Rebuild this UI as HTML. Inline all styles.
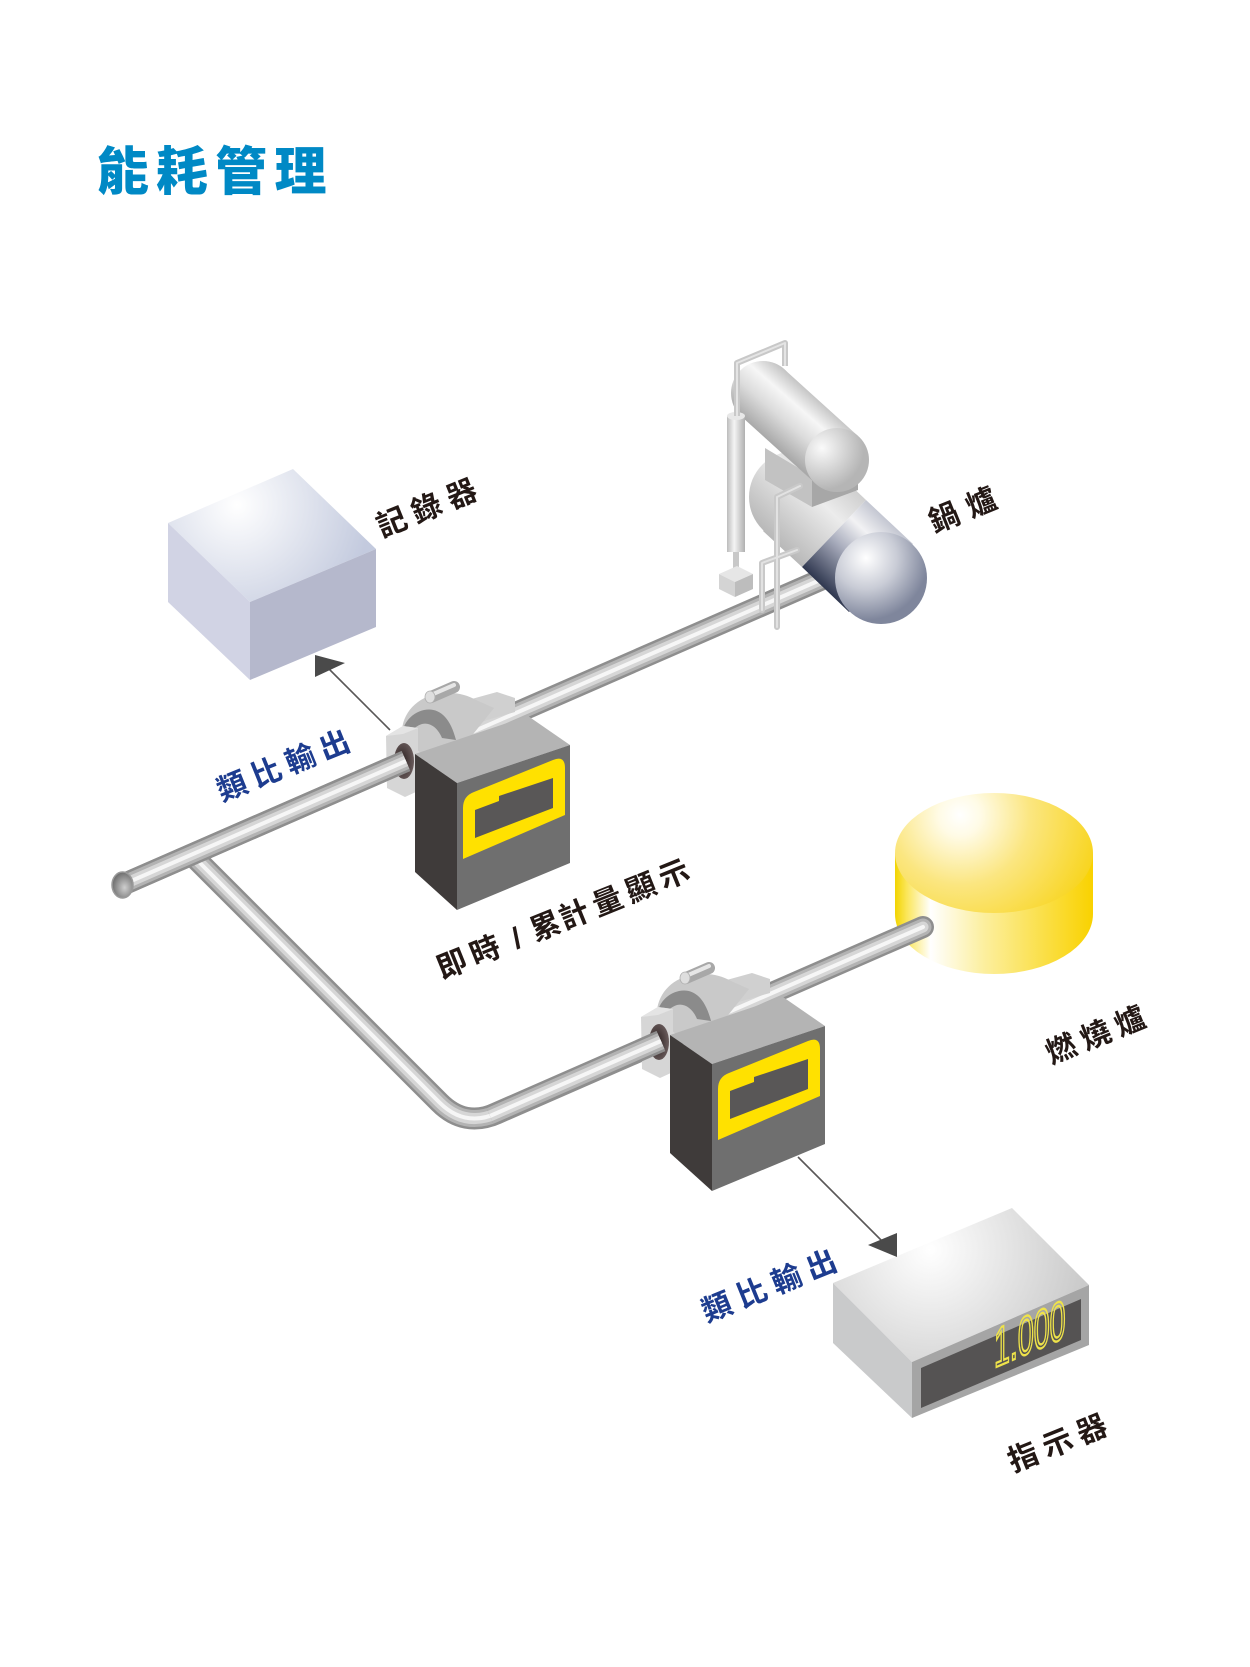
<!DOCTYPE html>
<html><head><meta charset="utf-8">
<style>
html,body{margin:0;padding:0;background:#fff;}
svg{display:block;}
.lbl{font-family:"Liberation Sans","Noto Sans CJK TC",sans-serif;font-size:30px;fill:#231815;font-weight:700;}
.blue{fill:#1d3c8f;}
</style></head><body>
<svg width="1250" height="1667" viewBox="0 0 1250 1667" xmlns="http://www.w3.org/2000/svg">
<defs>
  <radialGradient id="gRecTop" gradientUnits="userSpaceOnUse" cx="237" cy="505" r="135">
    <stop offset="0" stop-color="#ffffff"/><stop offset="1" stop-color="#c3cade"/>
  </radialGradient>
  <radialGradient id="gBurTop" gradientUnits="userSpaceOnUse" cx="960" cy="815" r="140">
    <stop offset="0" stop-color="#ffffff"/><stop offset="0.15" stop-color="#fffbe6"/>
    <stop offset="0.5" stop-color="#fbe680"/><stop offset="1" stop-color="#f8d520"/>
  </radialGradient>
  <linearGradient id="gBurSide" gradientUnits="userSpaceOnUse" x1="895" y1="0" x2="1093" y2="0">
    <stop offset="0" stop-color="#f2d400"/><stop offset="0.06" stop-color="#fbe65a"/>
    <stop offset="0.18" stop-color="#ffffff"/><stop offset="0.45" stop-color="#fcef9e"/>
    <stop offset="1" stop-color="#f9d200"/>
  </linearGradient>
  <radialGradient id="gIndTop" gradientUnits="userSpaceOnUse" cx="930" cy="1250" r="175">
    <stop offset="0" stop-color="#ffffff"/><stop offset="1" stop-color="#c4c4c4"/>
  </radialGradient>
  <linearGradient id="gUpCyl" gradientUnits="userSpaceOnUse" x1="784" y1="369" x2="742" y2="417">
    <stop offset="0" stop-color="#c4c4c4"/><stop offset="0.3" stop-color="#f6f6f6"/>
    <stop offset="0.6" stop-color="#dcdcdc"/><stop offset="1" stop-color="#a9a9a9"/>
  </linearGradient>
  <radialGradient id="gUpCap" gradientUnits="userSpaceOnUse" cx="822" cy="448" r="42">
    <stop offset="0" stop-color="#fafafa"/><stop offset="1" stop-color="#b5b5b5"/>
  </radialGradient>
  <linearGradient id="gLowRear" gradientUnits="userSpaceOnUse" x1="827" y1="463" x2="763" y2="531">
    <stop offset="0" stop-color="#cfcfcf"/><stop offset="0.35" stop-color="#ececec"/><stop offset="1" stop-color="#b8b8b8"/>
  </linearGradient>
  <linearGradient id="gLowFront" gradientUnits="userSpaceOnUse" x1="866" y1="500" x2="802" y2="567">
    <stop offset="0" stop-color="#c4c7d2"/><stop offset="0.25" stop-color="#f2f2f4"/>
    <stop offset="0.55" stop-color="#a9adbd"/><stop offset="1" stop-color="#2f374f"/>
  </linearGradient>
  <radialGradient id="gLowCap" gradientUnits="userSpaceOnUse" cx="866" cy="558" r="62">
    <stop offset="0" stop-color="#ffffff"/><stop offset="0.5" stop-color="#c9ccd6"/><stop offset="1" stop-color="#7f869c"/>
  </radialGradient>
  <linearGradient id="gCol" gradientUnits="userSpaceOnUse" x1="727" y1="0" x2="745" y2="0">
    <stop offset="0" stop-color="#bcbcbc"/><stop offset="0.4" stop-color="#f4f4f4"/><stop offset="1" stop-color="#b0b0b0"/>
  </linearGradient>
  <radialGradient id="gHole" cx="0.4" cy="0.5" r="0.6">
    <stop offset="0" stop-color="#2a2020"/><stop offset="1" stop-color="#6a5c5c"/>
  </radialGradient>
  <radialGradient id="gEnd" cx="0.6" cy="0.6" r="0.6">
    <stop offset="0" stop-color="#cfcfcf"/><stop offset="1" stop-color="#6e6e6e"/>
  </radialGradient>

  <path id="mainPipe" d="M122,885 L850,567" fill="none"/>
  <path id="branchPipe" d="M195,858 L439.5,1102.5 Q464.5,1127.5 496.5,1113.5 L923,927" fill="none"/>
  <path id="seg1" d="M122,885 L406,761" fill="none"/>
  <path id="seg2" d="M490,1116 L661,1041" fill="none"/>

  <g id="meter">
    <polygon points="468,700 497,692 515,698 515,712 480,722" fill="#d0d0d0"/>
    <path d="M402,738 C400,716 414,699 436,694 C452,691 466,694 476,700 L494,708 L470,738 L430,760 Z" fill="#c9c9c9"/>
    <path d="M401,742 C401,724 411,713 424,710 C438,707 450,716 456,740 L442,738 C438,728 430,722 422,724 C413,727 408,734 407,744 Z" fill="#8b8b8b"/>
    <line x1="431" y1="697" x2="454" y2="687" stroke="#a8a8a8" stroke-width="12" stroke-linecap="round"/>
    <line x1="431" y1="695" x2="454" y2="685" stroke="#e6e6e6" stroke-width="4" stroke-linecap="round"/>
    <ellipse cx="430" cy="697" rx="5" ry="6" fill="#dedede" stroke="#b0b0b0" stroke-width="0.8"/>
    <polygon points="386,736 403,726 418,728 418,791 405,797 387,788" fill="#d6d6d6"/>
    <polygon points="386,736 403,726 418,728 403,734" fill="#e4e4e4"/>
    <ellipse cx="404" cy="761" rx="10" ry="18" fill="url(#gHole)"/>
    <polygon points="415,754 528,716 570,745 457,783" fill="#b4b4b4"/>
    <polygon points="415,754 457,783 457,910 415,872" fill="#3f3b3a"/>
    <polygon points="457,783 570,745 570,863 457,910" fill="#6f6f6f"/>
    <path d="M463,859 L463,808 Q463,796 474,792 L553,760 Q565,755 565,768 L565,815 Z" fill="#ffe100"/>
    <path d="M475,838 L475,810 L499,801 L499,796 L553,778 L553,808 Z" fill="#595757"/>
  </g>
</defs>

<!-- Title -->
<text x="123 182 241 300.5" y="173" font-family="'Liberation Sans','Noto Sans CJK TC',sans-serif" font-size="52" font-weight="900" fill="#0089c5" text-anchor="middle" dominant-baseline="central">能耗管理</text>

<!-- Recorder box -->
<polygon points="293,469 376,549 250,602 168,523" fill="url(#gRecTop)"/>
<polygon points="168,523 250,602 250,680 168,602" fill="#d1d3e4"/>
<polygon points="250,602 376,549 376,627 250,680" fill="#b5b8cc"/>

<!-- Burner -->
<ellipse cx="994" cy="914" rx="99" ry="60" fill="url(#gBurSide)"/>
<rect x="895" y="853" width="198" height="61" fill="url(#gBurSide)"/>
<ellipse cx="994" cy="853" rx="99" ry="60" fill="url(#gBurTop)"/>

<!-- Pipes -->
<g fill="none" stroke-linejoin="round">
  <use href="#mainPipe" stroke="#8e8e8e" stroke-width="22"/>
  <use href="#mainPipe" stroke="#b3b3b3" stroke-width="17"/>
  <use href="#mainPipe" stroke="#d6d6d6" stroke-width="11"/>
  <use href="#mainPipe" stroke="#f6f6f6" stroke-width="4"/>
</g>
<g fill="none" stroke-linejoin="round" stroke-linecap="round">
  <use href="#branchPipe" stroke="#8e8e8e" stroke-width="22"/>
  <use href="#branchPipe" stroke="#b3b3b3" stroke-width="17"/>
  <use href="#branchPipe" stroke="#d6d6d6" stroke-width="11"/>
  <use href="#branchPipe" stroke="#f6f6f6" stroke-width="4"/>
</g>

<!-- Boiler -->
<circle cx="795" cy="497" r="46" fill="url(#gLowRear)"/>
<polygon points="763,531 827,463 866,500 802,567" fill="url(#gLowRear)"/>
<polygon points="765,448 812,476 812,507 765,480" fill="#c2c2c2"/>
<polygon points="812,476 858,470 858,490 812,507" fill="#a7a7a7"/>
<circle cx="763" cy="393" r="32" fill="url(#gUpCyl)"/>
<polygon points="742,417 784,369 858,436 816,484" fill="url(#gUpCyl)"/>
<circle cx="837" cy="460" r="32" fill="url(#gUpCap)"/>
<polygon points="802,567 866,500 913,544 849,612" fill="url(#gLowFront)"/>
<circle cx="881" cy="578" r="46" fill="url(#gLowCap)"/>
<line x1="736" y1="550" x2="736" y2="572" stroke="#c8c8c8" stroke-width="6"/>
<rect x="727" y="416" width="18" height="136" fill="url(#gCol)"/>
<ellipse cx="736" cy="416" rx="9" ry="4" fill="#e8e8e8"/>
<path d="M737,416 L737,363 L785,343 L785,366" fill="none" stroke="#c8c8c8" stroke-width="6" stroke-linejoin="round"/>
<path d="M737,416 L737,363 L785,343 L785,366" fill="none" stroke="#e4e4e4" stroke-width="2" stroke-linejoin="round"/>
<g fill="none" stroke-linecap="round" stroke-linejoin="round">
  <path d="M800,486 L777,497 L777,627" stroke="#c9c9c9" stroke-width="6"/>
  <path d="M797,550 L762,563 L762,610" stroke="#c9c9c9" stroke-width="6"/>
  <path d="M800,486 L777,497 L777,627" stroke="#e2e2e2" stroke-width="2"/>
  <path d="M797,550 L762,563 L762,610" stroke="#e2e2e2" stroke-width="2"/>
</g>
<polygon points="719,574 737,566 753,574 735,582" fill="#e6e6e6"/>
<polygon points="719,574 735,582 735,597 719,589" fill="#d4d4d4"/>
<polygon points="735,582 753,574 753,589 735,597" fill="#bdbdbd"/>

<!-- Meters -->
<use href="#meter"/>
<use href="#meter" transform="translate(255,281)"/>

<g fill="none">
  <use href="#seg1" stroke="#8e8e8e" stroke-width="22"/>
  <use href="#seg1" stroke="#b3b3b3" stroke-width="17"/>
  <use href="#seg1" stroke="#d6d6d6" stroke-width="11"/>
  <use href="#seg1" stroke="#f6f6f6" stroke-width="4"/>
  <use href="#seg2" stroke="#8e8e8e" stroke-width="22"/>
  <use href="#seg2" stroke="#b3b3b3" stroke-width="17"/>
  <use href="#seg2" stroke="#d6d6d6" stroke-width="11"/>
  <use href="#seg2" stroke="#f6f6f6" stroke-width="4"/>
</g>
<ellipse cx="122.5" cy="885" rx="10.5" ry="13" fill="url(#gEnd)" stroke="#9a9a9a" stroke-width="1.5"/>

<!-- Indicator -->
<polygon points="833,1283 1012,1208 1089,1285 912,1362" fill="url(#gIndTop)"/>
<polygon points="833,1283 912,1362 912,1418 833,1343" fill="#c9cacb"/>
<polygon points="912,1362 1089,1285 1089,1345 912,1418" fill="#a5a5a5"/>
<polygon points="921,1368 1081,1299 1081,1340 921,1408" fill="#555353"/>
<text transform="translate(994,1368) skewY(-23.2) scale(0.52,1)" font-family="'Liberation Sans',sans-serif" font-size="55" fill="none" stroke="#efe34a" stroke-width="2.4">1.000</text>

<!-- Arrows -->
<line x1="390" y1="730" x2="329" y2="669" stroke="#595757" stroke-width="1.6"/>
<polygon points="315,655 315,677 345,663" fill="#4a4a4a"/>
<line x1="798" y1="1157" x2="883" y2="1242" stroke="#595757" stroke-width="1.6"/>
<polygon points="868,1245 897,1233 897,1257" fill="#4a4a4a"/>

<!-- Labels -->
<g transform="translate(427,509) rotate(-22)"><text class="lbl" x="-37.7 0 37.7" y="0" text-anchor="middle" dominant-baseline="central">記錄器</text></g>
<g transform="translate(963,511) rotate(-22)"><text class="lbl" x="-20 20" y="0" text-anchor="middle" dominant-baseline="central">鍋爐</text></g>
<g transform="translate(1096,1036) rotate(-22)"><text class="lbl" x="-37 0 37" y="0" text-anchor="middle" dominant-baseline="central">燃燒爐</text></g>
<g transform="translate(563.3,920) rotate(-22)"><text class="lbl" x="-119.7 -83.9 -50.1 -19 12 48 84 119.7" y="0" text-anchor="middle" dominant-baseline="central">即時/累計量顯示</text></g>
<g transform="translate(283.7,766.7) rotate(-22)"><text class="lbl blue" x="-55.2 -18.4 18.4 55.2" y="0" text-anchor="middle" dominant-baseline="central">類比輸出</text></g>
<g transform="translate(769.5,1287) rotate(-22)"><text class="lbl blue" x="-56.4 -18.8 18.8 56.4" y="0" text-anchor="middle" dominant-baseline="central">類比輸出</text></g>
<g transform="translate(1057.8,1444) rotate(-22)"><text class="lbl" x="-37 0 37" y="0" text-anchor="middle" dominant-baseline="central">指示器</text></g>
</svg>
</body></html>
